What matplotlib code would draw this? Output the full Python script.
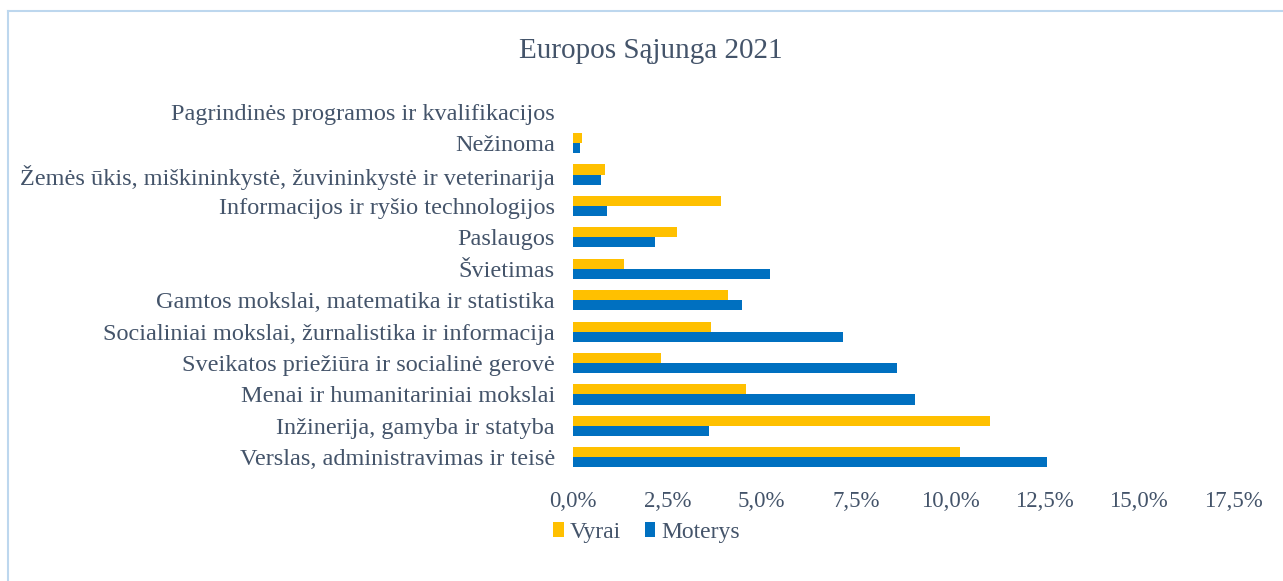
import matplotlib.pyplot as plt
import numpy as np
from matplotlib.ticker import FuncFormatter

# kategorijos (nuo apacios i virsu)
categories = [
    "Verslas, administravimas ir teisė",
    "Inžinerija, gamyba ir statyba",
    "Menai ir humanitariniai mokslai",
    "Sveikatos priežiūra ir socialinė gerovė",
    "Socialiniai mokslai, žurnalistika ir informacija",
    "Gamtos mokslai, matematika ir statistika",
    "Švietimas",
    "Paslaugos",
    "Informacijos ir ryšio technologijos",
    "Žemės ūkis, miškininkystė, žuvininkystė ir veterinarija",
    "Nežinoma",
    "Pagrindinės programos ir kvalifikacijos",
]
vyrai = [10.27, 11.06, 4.59, 2.33, 3.66, 4.11, 1.35, 2.76, 3.93, 0.85, 0.24, 0.0]
moterys = [12.57, 3.60, 9.07, 8.59, 7.16, 4.48, 5.23, 2.18, 0.90, 0.74, 0.19, 0.0]
xticks = [0, 2.5, 5, 7.5, 10, 12.5, 15, 17.5]

txt = "#44546A"
plt.rcParams['font.family'] = ['Liberation Serif', 'DejaVu Serif']

fig = plt.figure(figsize=(12.83, 5.81), dpi=100)
ax = fig.add_axes([0.4466, 0.1859, 0.961 - 0.4466, 0.8348 - 0.1859])

y = np.arange(len(categories))
h = 0.32
ax.barh(y + h / 2, vyrai, height=h, color="#FFC000", label="Vyrai")
ax.barh(y - h / 2, moterys, height=h, color="#0070C0", label="Moterys")

ax.set_xlim(0, 17.5)
ax.set_ylim(-0.5, len(categories) - 0.5)
ax.set_yticks(y)
ax.set_yticklabels(categories, fontsize=17.5, color=txt)
ax.set_xticks(xticks)
ax.xaxis.set_major_formatter(FuncFormatter(lambda v, p: ("%.1f%%" % v).replace(".", ",")))
ax.tick_params(axis="x", labelsize=16.5, colors=txt, length=0, pad=13)
ax.tick_params(axis="y", length=0, pad=13)
for s in ax.spines.values():
    s.set_visible(False)

fig.text(0.507, 0.913, "Europos Sąjunga 2021", ha="center", va="center", fontsize=21, color=txt)

leg = fig.legend(loc="center", bbox_to_anchor=(0.504, 0.083), ncol=2, frameon=False,
                 fontsize=17, handlelength=0.45, handleheight=0.6, handletextpad=0.25,
                 columnspacing=1.0, labelcolor=txt)

# remelis
fig.add_artist(plt.Line2D([8 / 1283, 8 / 1283], [0, 1 - 11 / 581], color="#BDD7EE", lw=1.5))
fig.add_artist(plt.Line2D([8 / 1283, 1], [1 - 11 / 581, 1 - 11 / 581], color="#BDD7EE", lw=1.5))

fig.savefig("out.png", dpi=100)
